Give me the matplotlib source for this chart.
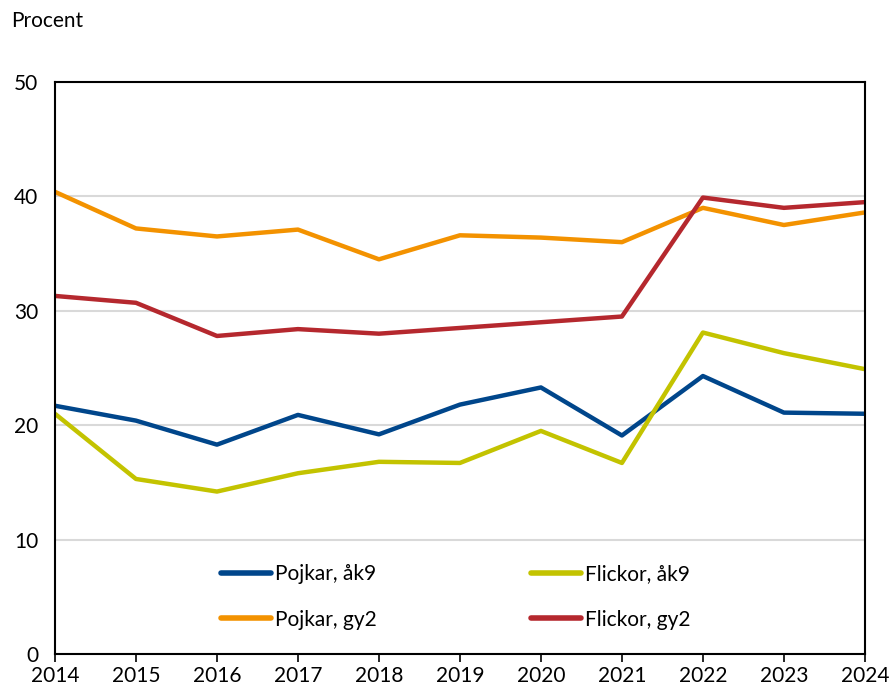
import numpy as np
import matplotlib.pyplot as plt

plt.rcParams['font.family'] = ['Lato', 'DejaVu Sans']

years = [2014, 2015, 2016, 2017, 2018, 2019, 2020, 2021, 2022, 2023, 2024]
pojkar_ak9 = [21.7, 20.4, 18.3, 20.9, 19.2, 21.8, 23.3, 19.1, 24.3, 21.1, 21.0]
flickor_ak9 = [21.0, 15.3, 14.2, 15.8, 16.8, 16.7, 19.5, 16.7, 28.1, 26.3, 24.9]
pojkar_gy2 = [40.4, 37.2, 36.5, 37.1, 34.5, 36.6, 36.4, 36.0, 39.0, 37.5, 38.6]
flickor_gy2 = [31.3, 30.7, 27.8, 28.4, 28.0, 28.5, 29.0, 29.5, 39.9, 39.0, 39.5]

fig = plt.figure(figsize=(8.91, 6.95), dpi=100)
ax = fig.add_axes([0.0617, 0.059, 0.909, 0.823])

lw = 3.2
ax.plot(years, pojkar_ak9, color='#00468B', lw=lw, label='Pojkar, åk9', solid_capstyle='butt')
ax.plot(years, flickor_ak9, color='#C3C300', lw=lw, label='Flickor, åk9', solid_capstyle='butt')
ax.plot(years, pojkar_gy2, color='#F39200', lw=lw, label='Pojkar, gy2', solid_capstyle='butt')
ax.plot(years, flickor_gy2, color='#B5282E', lw=lw, label='Flickor, gy2', solid_capstyle='butt')

ax.set_xlim(2014, 2024)
ax.set_ylim(0, 50)
ax.set_xticks(years)
ax.set_yticks(np.arange(0, 51, 10))
ax.grid(axis='y', color='#d9d9d9', lw=1.5)
ax.set_axisbelow(True)
for s in ax.spines.values():
    s.set_linewidth(1.5)
    s.set_color('black')
ax.tick_params(axis='x', direction='out', length=6, width=1.2, labelsize=15, pad=3)
ax.tick_params(axis='y', length=0, labelsize=15, pad=12)

fig.text(0.012, 0.97, 'Procent', fontsize=15, va='center', ha='left')

# legend ordering: row-wise
handles, labels = ax.get_legend_handles_labels()
order = [0, 2, 1, 3]
leg = ax.legend([handles[i] for i in order], [labels[i] for i in order], ncol=2,
                frameon=False, fontsize=15, loc='center', bbox_to_anchor=(0.495, 0.10),
                handlelength=2.4, handletextpad=0.2, columnspacing=7.4, labelspacing=1.24)
for h in leg.get_lines():
    h.set_linewidth(4)
    h.set_solid_capstyle('round')

plt.savefig('out.png', dpi=100)
